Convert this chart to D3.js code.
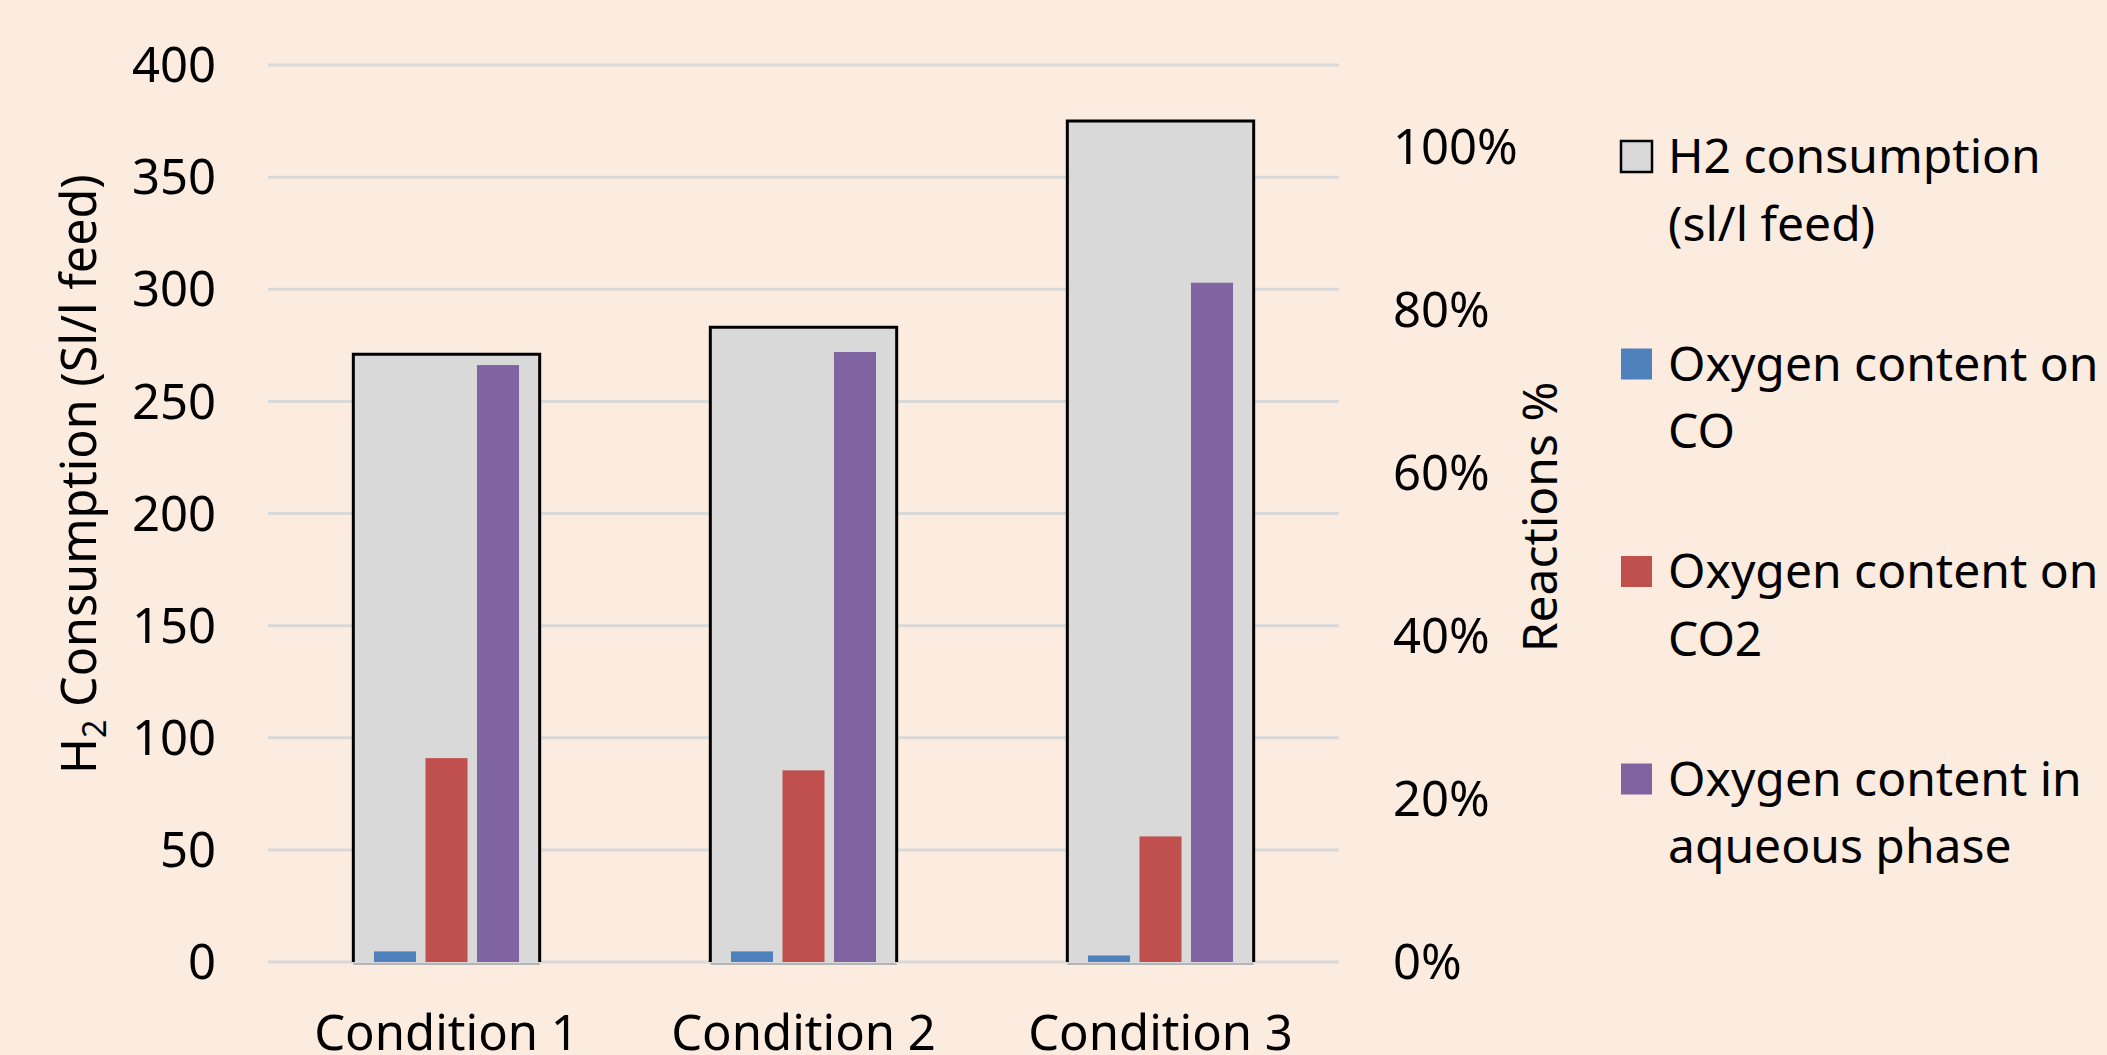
<!DOCTYPE html>
<html>
<head>
<meta charset="utf-8">
<script src="https://cdn.jsdelivr.net/npm/d3@7"></script>
<style>
  html, body { margin: 0; padding: 0; background: #fcebdf; }
  svg { display: block; }
  text { font-family: "Noto Sans", "Open Sans", sans-serif; fill: #000; }
</style>
</head>
<body>
<svg id="chart" width="2107" height="1055"></svg>
<script>
// Categories and values
const categories = ["Condition 1", "Condition 2", "Condition 3"];
const h2Consumption = [271, 283, 375];          // sl/l feed, left axis
const oxygenSeries = ["Oxygen content on CO", "Oxygen content on CO2", "Oxygen content in aqueous phase"];
const oxygenCO = [0.013, 0.013, 0.008];         // fraction, right axis
const oxygenCO2 = [0.250, 0.235, 0.154];
const oxygenAqueous = [0.732, 0.748, 0.833];
const leftTicks = [0, 50, 100, 150, 200, 250, 300, 350, 400];
const rightTicks = [0, 0.2, 0.4, 0.6, 0.8, 1.0];
const legendLabels = [
  ["H2 consumption", "(sl/l feed)"],
  ["Oxygen content on", "CO"],
  ["Oxygen content on", "CO2"],
  ["Oxygen content in", "aqueous phase"]
];

const colors = { h2: "#d9d9d9", co: "#4f81bd", co2: "#c0504d", aq: "#8064a2" };
const seriesColors = [colors.co, colors.co2, colors.aq];
const oxygenValues = [oxygenCO, oxygenCO2, oxygenAqueous];

const svg = d3.select("#chart");
svg.append("rect").attr("width", 2107).attr("height", 1055).attr("fill", "#fcebdf");

const plot = { left: 268, right: 1339, top: 65, bottom: 962 };

const x0 = d3.scaleBand().domain(categories)
  .range([plot.left, plot.right]).paddingInner(0.478).paddingOuter(0.239);
const yLeft = d3.scaleLinear().domain([0, 400]).range([plot.bottom, plot.top]);
const yRight = d3.scaleLinear().domain([0, 1.1]).range([plot.bottom, plot.top]);

const groupSpan = 154.5;
const x1 = d3.scaleBand().domain(d3.range(oxygenSeries.length))
  .range([(x0.bandwidth() - groupSpan) / 2, (x0.bandwidth() + groupSpan) / 2])
  .paddingInner(0.184).paddingOuter(0.092);

// Horizontal gridlines
svg.append("g").selectAll("line").data(leftTicks).join("line")
  .attr("x1", plot.left).attr("x2", plot.right)
  .attr("y1", d => yLeft(d)).attr("y2", d => yLeft(d))
  .attr("stroke", "#d9d9d9").attr("stroke-width", 3);

// Left axis labels
const leftAxis = svg.append("g").attr("transform", `translate(${plot.left - 52},0)`)
  .call(d3.axisLeft(yLeft).tickValues(leftTicks).tickSize(0).tickPadding(0));
leftAxis.select(".domain").remove();
leftAxis.selectAll("text").attr("font-size", 49)
  .style("font-family", "'Noto Sans', sans-serif").attr("fill", "#000").attr("dy", "0.34em");

// Right axis labels
const rightAxis = svg.append("g").attr("transform", `translate(1393,0)`)
  .call(d3.axisRight(yRight).tickValues(rightTicks).tickFormat(d3.format(".0%")).tickSize(0).tickPadding(0));
rightAxis.select(".domain").remove();
rightAxis.selectAll("text").attr("font-size", 49)
  .style("font-family", "'Noto Sans', sans-serif").attr("fill", "#000").attr("dy", "0.34em");

// H2 consumption boxes (primary axis)
const boxes = svg.append("g").selectAll("g").data(categories).join("g");
boxes.append("rect")
  .attr("x", d => x0(d)).attr("width", x0.bandwidth())
  .attr("y", (d, i) => yLeft(h2Consumption[i]))
  .attr("height", (d, i) => yLeft(0) - yLeft(h2Consumption[i]))
  .attr("fill", colors.h2);
boxes.append("path")
  .attr("d", (d, i) => {
    const l = x0(d), r = x0(d) + x0.bandwidth(), t = yLeft(h2Consumption[i]), b = yLeft(0);
    return `M${l},${b}V${t}H${r}V${b}`;
  })
  .attr("fill", "none").attr("stroke", "#000").attr("stroke-width", 3);
boxes.append("line")
  .attr("x1", d => x0(d)).attr("x2", d => x0(d) + x0.bandwidth())
  .attr("y1", yLeft(0) + 2).attr("y2", yLeft(0) + 2)
  .attr("stroke", "#b4b4b4").attr("stroke-width", 2);

// Oxygen distribution bars (secondary axis)
const groups = svg.append("g").selectAll("g").data(categories).join("g")
  .attr("transform", d => `translate(${x0(d)},0)`);
groups.selectAll("rect")
  .data((d, ci) => oxygenValues.map((vals, si) => ({ si, v: vals[ci] })))
  .join("rect")
  .attr("x", d => x1(d.si)).attr("width", x1.bandwidth())
  .attr("y", d => yRight(d.v)).attr("height", d => yRight(0) - yRight(d.v))
  .attr("fill", d => seriesColors[d.si]);

// Category labels
svg.append("g").selectAll("text").data(categories).join("text")
  .attr("x", d => x0(d) + x0.bandwidth() / 2).attr("y", 1050)
  .attr("text-anchor", "middle").attr("font-size", 49).text(d => d);

// Left axis title with subscript
const lt = svg.append("text")
  .attr("transform", "translate(96,474) rotate(-90)")
  .attr("text-anchor", "middle").attr("font-size", 48.5);
lt.append("tspan").text("H");
lt.append("tspan").attr("font-size", 32).attr("dy", 10).text("2");
lt.append("tspan").attr("dy", -10).text(" Consumption (Sl/l feed)");

// Right axis title
svg.append("text")
  .attr("transform", "translate(1557,517) rotate(-90)")
  .attr("text-anchor", "middle").attr("font-size", 48).text("Reactions %");

// Legend
const legendFills = [colors.h2, colors.co, colors.co2, colors.aq];
const legend = svg.append("g").selectAll("g").data(legendLabels).join("g")
  .attr("transform", (d, i) => `translate(1621,${141 + i * 207.5})`);
legend.append("rect")
  .attr("width", 31).attr("height", 31)
  .attr("fill", (d, i) => legendFills[i])
  .attr("stroke", (d, i) => i === 0 ? "#000" : "none")
  .attr("stroke-width", 2.5);
legend.append("text")
  .attr("x", 47).attr("y", 32).attr("font-size", 48)
  .selectAll("tspan").data(d => d).join("tspan")
  .attr("x", 47).attr("dy", (d, i) => i === 0 ? 0 : 67.5).text(d => d);
</script>
</body>
</html>
